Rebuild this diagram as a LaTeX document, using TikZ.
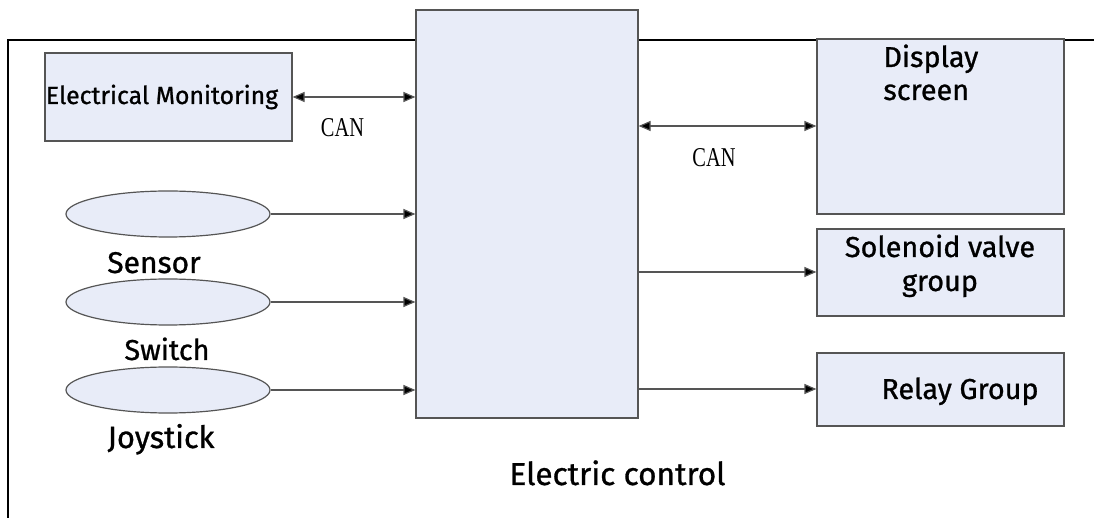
\documentclass[tikz,border=0pt]{standalone}
\usepackage{fontspec}
\setmainfont{Fira Sans}[FakeBold=0.9]
\newfontfamily\canfont{Liberation Serif}[FakeStretch=0.75]
\usepackage{tikz}
\usetikzlibrary{arrows.meta, positioning, calc, shapes.geometric}
\definecolor{boxfill}{RGB}{232, 236, 248}
\definecolor{edgegray}{RGB}{85, 85, 85}

\begin{document}
\begin{tikzpicture}[
    x=0.5pt, y=-0.5pt,
    block/.style={rectangle, draw=edgegray, fill=boxfill, line width=0.6pt,
                  inner sep=0pt, minimum width=123.5pt},
    blob/.style={ellipse, draw=edgegray, fill=boxfill, line width=0.6pt,
                 inner sep=0pt, minimum width=102pt, minimum height=23pt},
    lbl/.style={font=\fontsize{14.4}{17}\selectfont, inner sep=0pt, anchor=base},
    canlbl/.style={font=\canfont\fontsize{13.6}{15}\selectfont, inner sep=0pt, anchor=base},
    trans/.style={-{Triangle[length=6pt, width=5pt, fill=black]}, draw=edgegray, line width=0.6pt},
    both/.style={{Triangle[length=6pt, width=5pt, fill=black]}-{Triangle[length=6pt, width=5pt, fill=black]},
                 draw=edgegray, line width=0.6pt},
]
\useasboundingbox (0,0) rectangle (1094,518);

% Frame
\draw[line width=0.6pt] (8,518) -- (8,40) -- (1094,40);

% Controller
\node[block, minimum width=111pt, minimum height=204pt] (ecu) at (527,214) {};

% Inputs
\node[block, minimum height=44pt] (mon) at (168.5,97) {};
\node[lbl, font=\fontsize{12.4}{15}\selectfont] (montxt) at (162,104) {Electrical Monitoring};
\node[blob] (sens) at (168,214) {};
\node[blob] (swit) at (168,302) {};
\node[blob] (joy)  at (168,390) {};
\node[lbl, font=\fontsize{15}{17}\selectfont] (senstxt) at (154,273) {Sensor};
\node[lbl] (swittxt) at (167,360) {Switch};
\node[lbl, font=\fontsize{15.4}{17}\selectfont] (joytxt)  at (161,448) {Joystick};

% Outputs
\node[block, minimum height=87.5pt] (disp) at (940.5,126.5) {};
\node[lbl, anchor=base west] (disptxt) at (883,67) {Display};
\node[lbl, anchor=base west] (disptxt2) at (883,100) {screen};
\node[block, minimum height=43.5pt] (sol) at (940.5,272.5) {};
\node[lbl] (soltxt) at (940,257) {Solenoid valve};
\node[lbl] (soltxt2) at (940,291) {group};
\node[block, minimum height=36.5pt] (rel) at (940.5,389.5) {};
\node[lbl] (reltxt) at (960,399) {Relay Group};

\node[lbl, font=\fontsize{15.8}{18}\selectfont] (title) at (617.5,485) {Electric control};

% Links
\draw[both] (mon.east) -- (mon.east -| ecu.west);
\node[canlbl] (can1) at (342.5,137) {CAN};
\draw[both] (ecu.east |- 0,126) -- (disp.west |- 0,126);
\node[canlbl] (can2) at (714,167) {CAN};
\draw[trans] (sens.east) -- (sens.east -| ecu.west);
\draw[trans] (swit.east) -- (swit.east -| ecu.west);
\draw[trans] (joy.east) -- (joy.east -| ecu.west);
\draw[trans] (ecu.east |- 0,272) -- (sol.west |- 0,272);
\draw[trans] (ecu.east |- 0,389) -- (rel.west |- 0,389);

\end{tikzpicture}
\end{document}
